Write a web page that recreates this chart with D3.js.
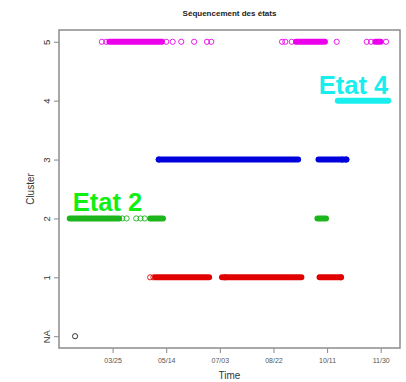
<!DOCTYPE html>
<html>
<head>
<meta charset="utf-8">
<script src="https://cdn.jsdelivr.net/npm/d3@7"></script>
<style>
  body { margin: 0; background: #fff; }
  text { font-family: "Liberation Sans", Arial, sans-serif; }
</style>
</head>
<body>
<div id="chart"></div>
<script>
// cluster levels (NA sits at 0)
const clusterLabels = ["NA", "1", "2", "3", "4", "5"];
const clusterColors = ["#222222", "#e00000", "#1cb51c", "#0000dd", "#18eeee", "#ea00ea"];

// dense stretches of observations, [start, end]
const runsC1 = [["2017-05-04", "2017-06-23"], ["2017-07-05", "2017-09-17"], ["2017-10-04", "2017-10-24"]];
const runsC2 = [["2017-02-13", "2017-03-31"], ["2017-04-29", "2017-05-11"], ["2017-10-02", "2017-10-10"]];
const runsC3 = [["2017-05-07", "2017-09-14"], ["2017-10-03", "2017-10-29"]];
const runsC4 = [["2017-10-21", "2017-12-07"]];
const runsC5 = [["2017-03-22", "2017-05-10"], ["2017-09-12", "2017-10-09"], ["2017-11-25", "2017-11-30"]];

// isolated observations
const pointsNA = ["2017-02-18"];
const pointsC1 = ["2017-04-29", "2017-05-02", "2017-07-08", "2017-10-24"];
const pointsC2 = ["2017-04-03", "2017-04-07", "2017-04-16", "2017-04-20", "2017-04-24"];
const pointsC3 = ["2017-05-07", "2017-10-25", "2017-10-29"];
const pointsC5 = ["2017-03-15", "2017-03-19", "2017-05-14", "2017-05-20", "2017-05-28", "2017-06-09",
  "2017-06-21", "2017-06-25", "2017-08-30", "2017-09-02", "2017-09-08", "2017-10-20",
  "2017-11-17", "2017-11-21", "2017-12-05"];

const xTicks = ["2017-03-25", "2017-05-14", "2017-07-03", "2017-08-22", "2017-10-11", "2017-11-30"];
const xDomain = ["2017-02-03", "2017-12-18"];

const parse = d3.timeParse("%Y-%m-%d");
const fmt = d3.timeFormat("%m/%d");

const runs = [];
[[1, runsC1], [2, runsC2], [3, runsC3], [4, runsC4], [5, runsC5]].forEach(([c, arr]) => {
  arr.forEach(r => runs.push({ c: c, start: parse(r[0]), end: parse(r[1]) }));
});
const points = [];
[[0, pointsNA], [1, pointsC1], [2, pointsC2], [3, pointsC3], [5, pointsC5]].forEach(([c, arr]) => {
  arr.forEach(d => points.push({ c: c, date: parse(d) }));
});

const W = 406, H = 382;
const margin = { top: 30, right: 6, bottom: 34, left: 59 };

const svg = d3.select("#chart")
  .append("svg")
  .attr("width", W)
  .attr("height", H);

const x = d3.scaleTime()
  .domain(xDomain.map(parse))
  .range([margin.left, W - margin.right]);

const y = d3.scaleLinear()
  .domain([-0.2, 5.2])
  .range([H - margin.bottom, margin.top]);

// runs (overlapping circles look like a capsule)
svg.selectAll(".run")
  .data(runs)
  .enter()
  .append("line")
  .attr("class", "run")
  .attr("x1", d => x(d.start))
  .attr("x2", d => x(d.end))
  .attr("y1", d => y(d.c))
  .attr("y2", d => y(d.c))
  .attr("stroke", d => clusterColors[d.c])
  .attr("stroke-width", 6)
  .attr("stroke-linecap", "round");

svg.selectAll(".pt")
  .data(points)
  .enter()
  .append("circle")
  .attr("class", "pt")
  .attr("cx", d => x(d.date))
  .attr("cy", d => y(d.c))
  .attr("r", 2.6)
  .attr("fill", "none")
  .attr("stroke", d => clusterColors[d.c])
  .attr("stroke-width", 0.9);

// axes
const xAxis = svg.append("g")
  .attr("transform", `translate(0,${H - margin.bottom})`)
  .call(d3.axisBottom(x)
    .tickValues(xTicks.map(parse))
    .tickFormat(fmt)
    .tickSize(5)
    .tickPadding(5));
xAxis.select(".domain").remove();
xAxis.selectAll("line").attr("stroke", "#888");
xAxis.selectAll("text")
  .attr("fill", "#555")
  .style("font-size", "7px");

const yAxis = svg.append("g")
  .attr("transform", `translate(${margin.left},0)`)
  .call(d3.axisLeft(y)
    .tickValues([0, 1, 2, 3, 4, 5])
    .tickFormat(d => clusterLabels[d])
    .tickSize(5)
    .tickPadding(3));
yAxis.select(".domain").remove();
yAxis.selectAll("line").attr("stroke", "#888");
yAxis.selectAll("text")
  .attr("fill", "#333")
  .style("font-size", "9.5px")
  .attr("text-anchor", "middle")
  .attr("transform", "rotate(-90)")
  .attr("x", 0)
  .attr("y", -9)
  .attr("dy", 0);

// box
svg.append("rect")
  .attr("x", margin.left)
  .attr("y", margin.top)
  .attr("width", W - margin.left - margin.right)
  .attr("height", H - margin.top - margin.bottom)
  .attr("fill", "none")
  .attr("stroke", "#8c8c8c")
  .attr("stroke-width", 1.5);

// titles
svg.append("text")
  .attr("x", (margin.left + W - margin.right) / 2)
  .attr("y", 16)
  .attr("text-anchor", "middle")
  .style("font-size", "8px")
  .style("font-weight", "bold")
  .attr("fill", "#222")
  .text("Séquencement des états");

svg.append("text")
  .attr("x", (margin.left + W - margin.right) / 2)
  .attr("y", 379)
  .attr("text-anchor", "middle")
  .style("font-size", "10px")
  .attr("fill", "#333")
  .text("Time");

svg.append("text")
  .attr("transform", `translate(34,${(margin.top + H - margin.bottom) / 2}) rotate(-90)`)
  .attr("text-anchor", "middle")
  .style("font-size", "10px")
  .attr("fill", "#333")
  .text("Cluster");

// annotations
svg.append("text")
  .attr("x", x(parse(runsC2[0][0])) + 3)
  .attr("y", y(2) - 7)
  .style("font-size", "25.5px")
  .style("font-weight", "bold")
  .attr("fill", "#11ee11")
  .text("Etat 2");

svg.append("text")
  .attr("x", x(parse(runsC4[0][1])))
  .attr("y", y(4) - 7)
  .attr("text-anchor", "end")
  .style("font-size", "25.5px")
  .style("font-weight", "bold")
  .attr("fill", "#18eeee")
  .text("Etat 4");
</script>
</body>
</html>
